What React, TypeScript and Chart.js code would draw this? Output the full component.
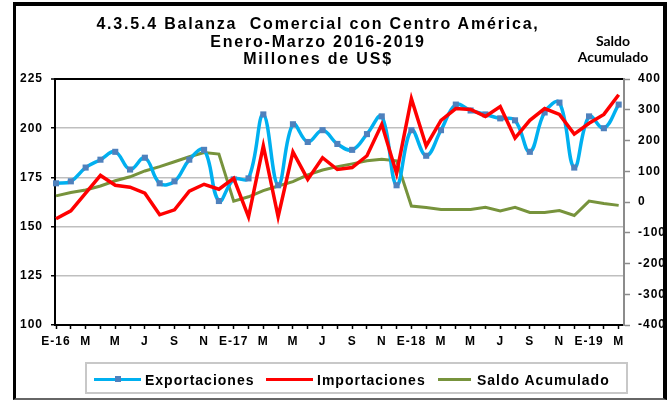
import React, { useEffect, useRef } from 'react';
import { Chart, registerables } from 'chart.js';

Chart.register(...registerables);

const categories = [
  'E-16', 'F', 'M', 'A', 'M', 'J', 'J', 'A', 'S', 'O', 'N', 'D',
  'E-17', 'F', 'M', 'A', 'M', 'J', 'J', 'A', 'S', 'O', 'N', 'D',
  'E-18', 'F', 'M', 'A', 'M', 'J', 'J', 'A', 'S', 'O', 'N', 'D',
  'E-19', 'F', 'M',
];

const exportaciones = [
  172, 173, 180, 184, 188, 179, 185, 172, 173, 184, 189, 163,
  174, 174.5, 207, 171, 202, 193, 199, 192, 189, 197, 206, 171,
  199, 186, 199, 212, 209, 207, 205, 204, 188, 208, 213, 180,
  206, 200, 212,
];

const importaciones = [
  154, 158, 167, 176, 171, 170, 167, 156, 158.5, 168, 171.5, 169,
  174.5, 155, 191, 155, 188, 174, 185, 179, 180, 186, 202, 177,
  215, 191, 204, 210, 209.5, 206, 211, 195, 204, 210, 207, 197,
  202.5, 207, 217,
];

const saldoAcumulado = [
  20, 31, 39, 52, 69, 82, 101, 115, 131, 147, 161, 156,
  3, 17, 37, 52, 66, 88, 104, 115, 124, 134, 139, 134,
  -13, -18, -24, -24, -24, -17, -29, -17, -34, -34, -28, -44,
  3, -5, -11,
];

const titleLines = [
  '4.3.5.4 Balanza  Comercial con Centro América,',
  'Enero-Marzo 2016-2019',
  'Millones de US$',
];

const FONT = "'Liberation Sans', Arial, sans-serif";
const CYAN = '#00b0f0';
const MARKER = '#4f81bd';
const RED = '#ff0000';
const GREEN = '#77933c';

const spacingPlugin = {
  id: 'letterSpacing',
  beforeUpdate(chart: any) {
    chart.ctx.letterSpacing = '1px';
  },
  beforeDraw(chart: any) {
    chart.ctx.letterSpacing = '1px';
  },
};

export default function App() {
  const canvasRef = useRef<HTMLCanvasElement | null>(null);

  useEffect(() => {
    const canvas = canvasRef.current;
    if (!canvas) return;
    Chart.defaults.font.family = FONT;
    const toXY = (arr: number[]) => arr.map((y, i) => ({ x: i, y }));
    const chart = new Chart(canvas, {
      type: 'line',
      data: {
        datasets: [
          {
            label: 'Importaciones',
            data: toXY(importaciones),
            borderColor: RED,
            backgroundColor: RED,
            borderWidth: 3.5,
            pointRadius: 0,
            tension: 0,
            yAxisID: 'y',
            order: 0,
          },
          {
            label: 'Exportaciones',
            data: toXY(exportaciones),
            borderColor: CYAN,
            backgroundColor: CYAN,
            borderWidth: 3.5,
            tension: 0.4,
            pointStyle: 'rect',
            pointRadius: 4.3,
            pointBackgroundColor: MARKER,
            pointBorderColor: MARKER,
            pointBorderWidth: 0,
            yAxisID: 'y',
            order: 1,
            clip: 8,
          },
          {
            label: 'Saldo Acumulado',
            data: toXY(saldoAcumulado),
            borderColor: GREEN,
            backgroundColor: GREEN,
            borderWidth: 3,
            pointRadius: 0,
            tension: 0,
            yAxisID: 'y1',
            order: 2,
          },
        ],
      } as any,
      options: {
        animation: false,
        responsive: false,
        maintainAspectRatio: false,
        layout: { padding: { left: 0, right: 5, top: 79, bottom: 50 } },
        plugins: {
          legend: { display: false },
          tooltip: { enabled: false },
          title: { display: false },
        },
        scales: {
          x: {
            type: 'linear',
            min: -0.07,
            max: 38.36,
            afterBuildTicks: (s: any) => {
              s.ticks = categories.map((_, i) => ({ value: i }));
            },
            afterFit: (s: any) => {
              s.height = 25;
            },
            ticks: {
              autoSkip: false,
              maxRotation: 0,
              minRotation: 0,
              padding: 5,
              color: '#000',
              font: { size: 12, weight: 'bold' },
              callback: (_v: any, i: number) => (i % 2 === 0 ? categories[i] : ''),
            },
            grid: {
              drawOnChartArea: false,
              drawTicks: true,
              tickLength: 4,
              tickColor: '#000',
              tickWidth: 1.5,
            },
            border: { display: true, color: '#000', width: 2 },
          },
          y: {
            position: 'left',
            min: 100,
            max: 225,
            afterFit: (s: any) => {
              s.width = 55;
            },
            ticks: {
              stepSize: 25,
              padding: 8,
              color: '#000',
              font: { size: 12, weight: 'bold' },
            },
            grid: {
              color: (c: any) =>
                c.tick && (c.tick.value === 225 || c.tick.value === 100) ? '#000' : '#bfbfbf',
              lineWidth: (c: any) => (c.tick && c.tick.value === 225 ? 2 : 1.5),
              tickColor: '#000',
              tickLength: 4,
              tickWidth: 1.5,
            },
            border: { display: true, color: '#000', width: 2 },
          },
          y1: {
            position: 'right',
            min: -400,
            max: 400,
            afterFit: (s: any) => {
              s.width = 40;
            },
            ticks: {
              stepSize: 100,
              padding: 8,
              color: '#000',
              font: { size: 12, weight: 'bold' },
            },
            grid: {
              drawOnChartArea: false,
              tickColor: '#8c8c8c',
              tickLength: 6,
              tickWidth: 1.5,
            },
            border: { display: true, color: '#8c8c8c', width: 2 },
          },
        },
      } as any,
      plugins: [spacingPlugin],
    });
    return () => chart.destroy();
  }, []);

  const titleStyle = (cy: number): React.CSSProperties => ({
    position: 'absolute',
    left: 18,
    width: 600,
    top: cy,
    transform: 'translateY(-50%)',
    textAlign: 'center',
    fontFamily: FONT,
    fontWeight: 'bold',
    fontSize: 16,
    lineHeight: 1,
    letterSpacing: '1.8px',
    whiteSpace: 'pre',
    color: '#000',
  });

  const legendText = (left: number): React.CSSProperties => ({
    position: 'absolute',
    left,
    top: 380,
    transform: 'translateY(-50%)',
    fontFamily: FONT,
    fontWeight: 'bold',
    fontSize: 14,
    lineHeight: 1,
    letterSpacing: '1px',
    whiteSpace: 'pre',
    color: '#000',
  });

  const legendLine = (left: number, width: number, color: string): React.CSSProperties => ({
    position: 'absolute',
    left,
    width,
    top: 377.5,
    height: 3,
    background: color,
  });

  const sideText = (cy: number): React.CSSProperties => ({
    position: 'absolute',
    left: 563,
    width: 100,
    top: cy,
    transform: 'translateY(-50%)',
    textAlign: 'center',
    fontFamily: "Lato, 'Open Sans', sans-serif",
    fontWeight: 'bold',
    fontSize: 14,
    lineHeight: 1,
    color: '#000',
  });

  return (
    <div
      style={{
        position: 'fixed',
        left: 0,
        top: 0,
        width: 669,
        height: 400,
        background: '#fff',
        overflow: 'hidden',
      }}
    >
      <canvas
        ref={canvasRef}
        width={669}
        height={400}
        style={{ position: 'absolute', left: 0, top: 0, width: 669, height: 400 }}
      />
      <div style={titleStyle(24)}>{titleLines[0]}</div>
      <div style={titleStyle(42)}>{titleLines[1]}</div>
      <div style={titleStyle(58.5)}>{titleLines[2]}</div>
      <div style={sideText(41)}>Saldo</div>
      <div style={sideText(56.5)}>Acumulado</div>

      <div
        style={{
          position: 'absolute',
          left: 85,
          top: 362,
          width: 543,
          height: 32,
          boxSizing: 'border-box',
          border: '2px solid #c8c8c8',
        }}
      />
      <div style={legendLine(94, 47, CYAN)} />
      <div
        style={{
          position: 'absolute',
          left: 114.5,
          top: 376,
          width: 6,
          height: 6,
          background: MARKER,
        }}
      />
      <div style={legendText(145)}>Exportaciones</div>
      <div style={legendLine(266, 47, RED)} />
      <div style={legendText(317)}>Importaciones</div>
      <div style={legendLine(438, 33, GREEN)} />
      <div style={legendText(477)}>Saldo Acumulado</div>

      <div
        style={{
          position: 'absolute',
          left: 13,
          top: 2,
          width: 654,
          height: 398,
          boxSizing: 'border-box',
          borderLeft: '3px solid #000',
          borderTop: '4px solid #000',
          borderRight: '4px solid #000',
          borderBottom: '2px solid #666',
          pointerEvents: 'none',
        }}
      />
    </div>
  );
}
